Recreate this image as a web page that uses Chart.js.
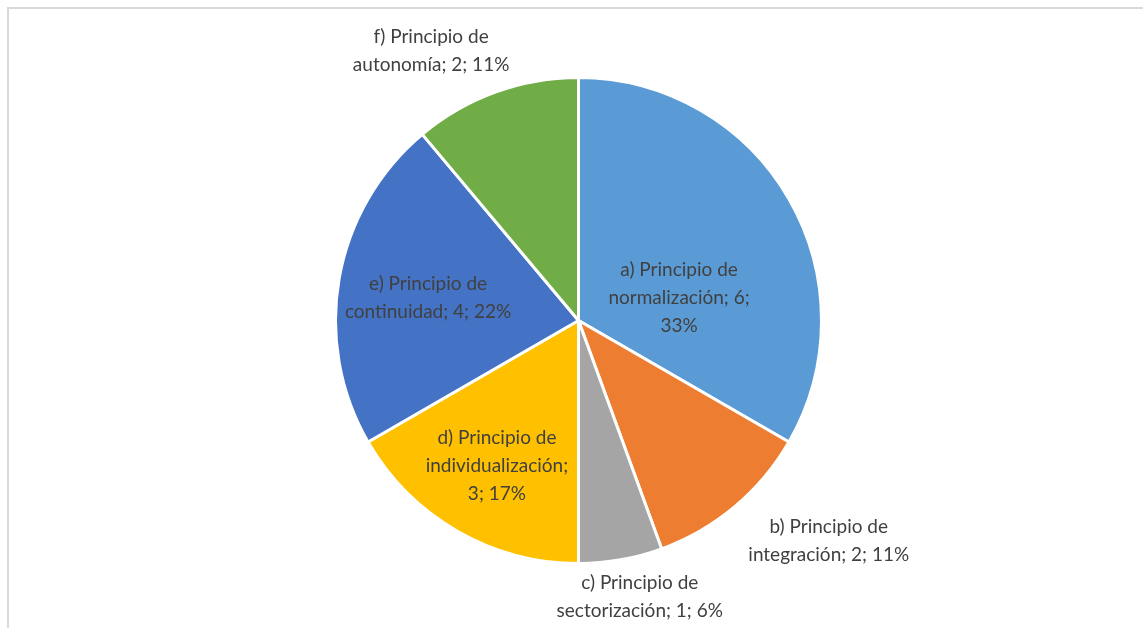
<!DOCTYPE html>
<html>
<head>
<meta charset="utf-8">
<title>Principios</title>
<script src="https://cdn.jsdelivr.net/npm/chart.js@4"></script>
<style>
  html, body { margin: 0; padding: 0; background: #fff; }
  canvas { display: block; }
</style>
</head>
<body>
<canvas id="pieChart" width="1143" height="628"></canvas>
<script>
(function() {
    'use strict';

    // data
    const categories = [
        'a) Principio de normalización',
        'b) Principio de integración',
        'c) Principio de sectorización',
        'd) Principio de individualización',
        'e) Principio de continuidad',
        'f) Principio de autonomía'
    ];
    const values = [6, 2, 1, 3, 4, 2];
    const colors = ['#5B9BD5', '#ED7D31', '#A5A5A5', '#FFC000', '#4472C4', '#70AD47'];

    // label placement: radial factor, angle shift (deg), wrap width
    const labelPlace = [
        { rf: 0.424, da: 17.4, wrap: 180 },
        { rf: 1.373, da: -8.6, wrap: 200 },
        { rf: 1.165, da: -2.5, wrap: 200 },
        { rf: 0.686, da: -0.7, wrap: 152 },
        { rf: 0.626, da: -1.5, wrap: 200 },
        { rf: 1.263, da: -8.7, wrap: 195 }
    ];

    const FONT = '19px Lato, "Liberation Sans", sans-serif';
    const LINE_H = 28;

    function wrapText(ctx, text, maxW) {
        const words = text.split(' ');
        const lines = [];
        let cur = '';
        words.forEach(w => {
            const test = cur ? cur + ' ' + w : w;
            if (cur && ctx.measureText(test).width > maxW) {
                lines.push(cur);
                cur = w;
            } else {
                cur = test;
            }
        });
        if (cur) lines.push(cur);
        return lines;
    }

    const frame = {
        id: 'frame',
        beforeDraw(chart) {
            const ctx = chart.ctx;
            ctx.save();
            ctx.strokeStyle = '#d9d9d9';
            ctx.lineWidth = 2;
            ctx.beginPath();
            ctx.moveTo(8, chart.height);
            ctx.lineTo(8, 8);
            ctx.lineTo(chart.width, 8);
            ctx.stroke();
            ctx.restore();
        }
    };

    const sliceLabels = {
        id: 'sliceLabels',
        afterDatasetsDraw(chart) {
            const ctx = chart.ctx;
            const meta = chart.getDatasetMeta(0);
            const data = chart.data.datasets[0].data;
            const total = data.reduce((a, b) => a + b, 0);
            ctx.save();
            ctx.font = FONT;
            ctx.fillStyle = '#404040';
            ctx.textAlign = 'center';
            ctx.textBaseline = 'middle';
            meta.data.forEach((arc, i) => {
                const p = labelPlace[i];
                const mid = (arc.startAngle + arc.endAngle) / 2 + p.da * Math.PI / 180;
                const r = arc.outerRadius * p.rf;
                const cx = arc.x + Math.cos(mid) * r;
                const cy = arc.y + Math.sin(mid) * r;
                const pct = Math.round(data[i] / total * 100);
                const text = chart.data.labels[i] + '; ' + data[i] + '; ' + pct + '%';
                const lines = wrapText(ctx, text, p.wrap);
                const top = cy - (lines.length - 1) * LINE_H / 2;
                lines.forEach((ln, k) => ctx.fillText(ln, cx, top + k * LINE_H));
            });
            ctx.restore();
        }
    };

    new Chart(document.getElementById('pieChart').getContext('2d'), {
        type: 'pie',
        data: {
            labels: categories,
            datasets: [{
                data: values,
                backgroundColor: colors,
                borderColor: '#ffffff',
                borderWidth: 3
            }]
        },
        options: {
            responsive: false,
            animation: false,
            radius: 243,
            layout: { padding: { left: 14, right: 0, top: 13, bottom: 0 } },
            plugins: {
                legend: { display: false },
                tooltip: { enabled: false }
            }
        },
        plugins: [frame, sliceLabels]
    });
})();
</script>
</body>
</html>
